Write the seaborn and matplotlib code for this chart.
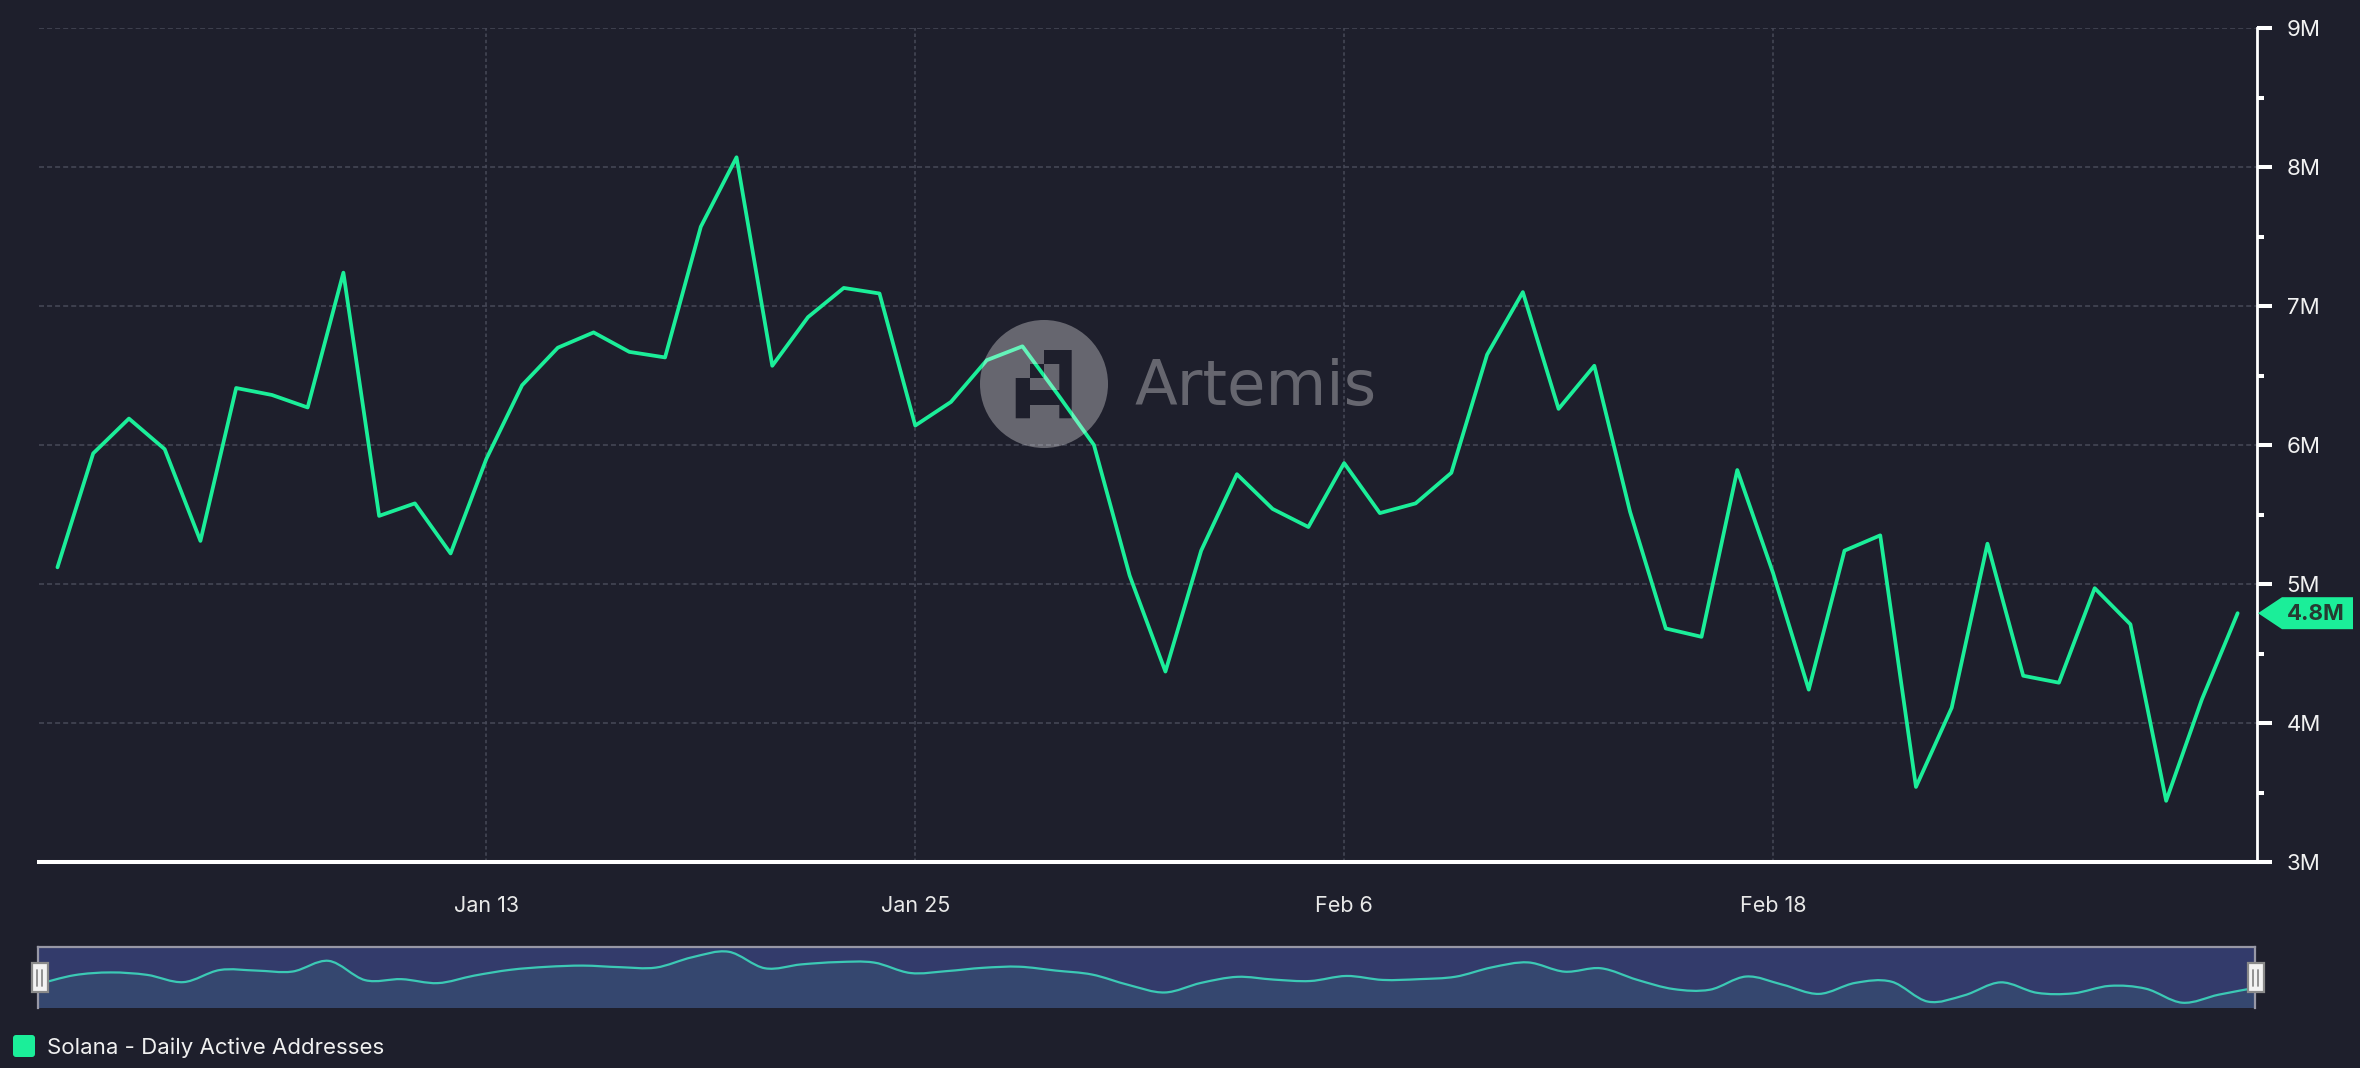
import numpy as np
import pandas as pd
import matplotlib
matplotlib.use("Agg")
import matplotlib.pyplot as plt
import matplotlib.dates as mdates
from matplotlib.path import Path
from matplotlib.patches import PathPatch, Polygon, FancyBboxPatch
from matplotlib.ticker import MultipleLocator, FuncFormatter
import seaborn as sns

# daily values in millions, starting Jan 1 2025
start_date = "2025-01-01"
daily_active_m = [
    5.12, 5.94, 6.19, 5.97, 5.31, 6.41, 6.36, 6.27, 7.24, 5.49,
    5.58, 5.22, 5.90, 6.43, 6.70, 6.81, 6.67, 6.63, 7.57, 8.07,
    6.57, 6.92, 7.13, 7.09, 6.14, 6.31, 6.61, 6.71, 6.36, 6.00,
    5.06, 4.37, 5.24, 5.79, 5.54, 5.41, 5.87, 5.51, 5.58, 5.80,
    6.65, 7.10, 6.26, 6.57, 5.52, 4.68, 4.62, 5.82, 5.08, 4.24,
    5.24, 5.35, 3.54, 4.11, 5.29, 4.34, 4.29, 4.97, 4.71, 3.44,
    4.17, 4.79,
]
tick_labels = ["Jan 13", "Jan 25", "Feb 6", "Feb 18"]
series_name = "Solana - Daily Active Addresses"
watermark = "Artemis"

BG = "#1e1f2c"
GREEN = "#1bee99"
GRID = "#474958"
W, H = 2360, 1068

dates = pd.date_range(start_date, periods=len(daily_active_m), freq="D")
df = pd.DataFrame({"date": dates, "value": daily_active_m})

sns.set_theme(style="dark")
plt.rcParams["font.family"] = ["Inter", "DejaVu Sans"]
plt.rcParams["lines.scale_dashes"] = False

fig = plt.figure(figsize=(W / 100, H / 100), dpi=100, facecolor=BG)

# main chart
ax = fig.add_axes([39 / W, 206 / H, 2218 / W, 834 / H])
ax.set_facecolor(BG)
sns.lineplot(data=df, x="date", y="value", ax=ax, color=GREEN, linewidth=2.7, zorder=3)
ax.set_xlabel("")
ax.set_ylabel("")
ax.set_xlim(dates[0] - pd.Timedelta(hours=12.4), dates[-1] + pd.Timedelta(hours=13))
ax.set_ylim(3, 9)

tick_dates = pd.to_datetime([t + " 2025" for t in tick_labels], format="%b %d %Y")
ax.set_xticks(tick_dates)
ax.set_xticklabels(tick_labels)

ax.yaxis.tick_right()
ax.yaxis.set_major_locator(MultipleLocator(1))
ax.yaxis.set_minor_locator(MultipleLocator(0.5))
ax.yaxis.set_major_formatter(FuncFormatter(lambda v, p: f"{v:.0f}M"))

ax.grid(False)
ax.grid(axis="y", which="major", color=GRID, linestyle=(0, (3.6, 2.2)), linewidth=1.1)
ax.grid(axis="x", which="major", color=GRID, linestyle=(0, (2.5, 2.0)), linewidth=1.1)

for s in ["left", "top"]:
    ax.spines[s].set_visible(False)
ax.spines["bottom"].set_color("white")
ax.spines["bottom"].set_linewidth(2.9)
ax.spines["right"].set_color("white")
ax.spines["right"].set_linewidth(2.0)

ax.tick_params(axis="y", which="major", direction="out", length=10.8, width=2.9,
               color="white", pad=10.5, labelsize=16, labelcolor="#f2f2f2")
ax.tick_params(axis="y", which="minor", direction="out", length=5, width=2.9, color="white")
ax.tick_params(axis="x", which="major", direction="out", length=11.5, width=3.6,
               color="white", pad=13, labelsize=15.5, labelcolor="#e8e8e8")
ax.tick_params(axis="y", left=False, labelleft=False, right=True, labelright=True)

# navigator strip
nav = fig.add_axes([38 / W, 60 / H, 2217 / W, 61 / H])
nav.set_facecolor("#333b6b")
xs = mdates.date2num(dates)
ys = np.array(daily_active_m)
nlo, nhi = 2.96, 8.5
verts = [(xs[0], ys[0])]
codes = [Path.MOVETO]
n = len(xs)
for i in range(n - 1):
    p0 = np.array([xs[max(i - 1, 0)], ys[max(i - 1, 0)]])
    p1 = np.array([xs[i], ys[i]])
    p2 = np.array([xs[i + 1], ys[i + 1]])
    p3 = np.array([xs[min(i + 2, n - 1)], ys[min(i + 2, n - 1)]])
    c1 = p1 + (p2 - p0) / 6
    c2 = p2 - (p3 - p1) / 6
    verts += [tuple(c1), tuple(c2), tuple(p2)]
    codes += [Path.CURVE4] * 3
fill_verts = verts + [(xs[-1], nlo), (xs[0], nlo), (xs[0], ys[0])]
fill_codes = codes + [Path.LINETO, Path.LINETO, Path.CLOSEPOLY]
nav.add_patch(PathPatch(Path(fill_verts, fill_codes), facecolor="#35476f", edgecolor="none"))
nav.add_patch(PathPatch(Path(verts, codes), facecolor="none", edgecolor="#3cc9b5", linewidth=1.6))
nav.set_xlim(xs[0], xs[-1])
nav.set_ylim(nlo, nhi)
nav.set_xticks([])
nav.set_yticks([])
nav.grid(False)
nav.spines["bottom"].set_visible(False)
for s in ["top", "left", "right"]:
    nav.spines[s].set_color("#9898a6")
    nav.spines[s].set_linewidth(1.6)

# overlay in pixel coordinates
ov = fig.add_axes([0, 0, 1, 1], zorder=10)
ov.set_xlim(0, W)
ov.set_ylim(H, 0)
ov.axis("off")
ov.patch.set_alpha(0)

# watermark: circle with logo cut out
circle = Path.circle(center=(1044, 384), radius=64)
blocks = [(1044, 350, 1071.7, 364), (1059.3, 364, 1071.7, 418.3), (1030, 364, 1044, 378),
          (1015.7, 378, 1030, 418.3), (1030, 390, 1059.3, 405)]
rects = []
for x0, y0, x1, y1 in blocks:
    rects.append(Path([(x0, y0), (x0, y1), (x1, y1), (x1, y0), (x0, y0)],
                      [Path.MOVETO, Path.LINETO, Path.LINETO, Path.LINETO, Path.CLOSEPOLY]))
logo = Path.make_compound_path(circle, *rects)
ov.add_patch(PathPatch(logo, facecolor=(1, 1, 1, 0.32), edgecolor="none"))
ov.text(1135, 405, watermark, fontsize=45, color=(1, 1, 1, 0.32), ha="left", va="baseline",
        family="DejaVu Sans")

# last value tag
last = daily_active_m[-1]
py = H - ax.transData.transform((xs[-1], last))[1]
ov.add_patch(Polygon([(2258, py), (2282, py - 16), (2353, py - 16), (2353, py + 16), (2282, py + 16)],
                     closed=True, facecolor=GREEN, edgecolor="none"))
ov.text(2316, py + 1, f"{last:.1f}M", fontsize=16, fontweight="bold", color="#263a31",
        ha="center", va="center")

# navigator handles
for hx in [39.5, 2255.5]:
    ov.add_patch(FancyBboxPatch((hx - 8, 963), 16, 29, boxstyle="square,pad=0",
                                facecolor="#f3f3f3", edgecolor="#8a8a8a", linewidth=1.6))
    ov.plot([hx - 3, hx - 3], [970, 986], color="#8a8a8a", linewidth=1.3)
    ov.plot([hx + 2, hx + 2], [970, 986], color="#8a8a8a", linewidth=1.3)

# legend
ov.add_patch(FancyBboxPatch((13, 1035), 22, 22, boxstyle="round,pad=0,rounding_size=3",
                            facecolor=GREEN, edgecolor="none"))
ov.text(47, 1048, series_name, fontsize=16, color="#f0f0f0", ha="left", va="center")

fig.savefig("out.png", dpi=100, facecolor=BG)
